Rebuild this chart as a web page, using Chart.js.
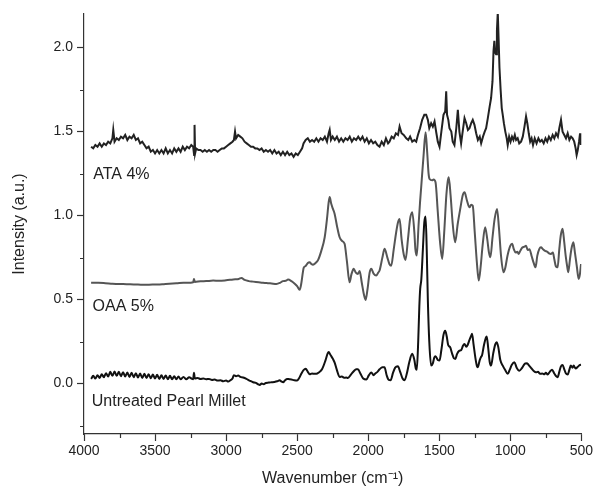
<!DOCTYPE html>
<html>
<head>
<meta charset="utf-8">
<script src="https://cdn.jsdelivr.net/npm/chart.js@4/dist/chart.umd.min.js"></script>
<style>
  html, body { margin: 0; padding: 0; background: #fff; }
  #wrap { width: 595px; height: 494px; }
</style>
</head>
<body>
<div id="wrap"><canvas id="graficoEspectros" width="595" height="494"></canvas></div>
<script>
// dados (numero de onda em cm-1, intensidade em u.a.)
const ataWn = [3950,3935,3920,3905,3890,3875,3860,3845,3830,3815,3800,3794,3785,3770,3755,3740,3725,3710,3695,3680,3665,3650,3635,3620,3605,3590,3575,3560,3545,3530,3515,3500,3485,3470,3455,3440,3425,3410,3395,3380,3365,3350,3335,3320,3305,3290,3275,3260,3245,3232,3225,3222,3218,3210,3195,3180,3165,3150,3135,3120,3105,3090,3075,3060,3045,3030,3015,3000,2985,2970,2955,2945,2937,2930,2915,2900,2885,2870,2855,2840,2825,2810,2795,2780,2765,2750,2735,2720,2705,2690,2675,2660,2645,2630,2615,2600,2585,2570,2555,2540,2525,2510,2495,2480,2465,2455,2440,2425,2410,2395,2380,2365,2350,2335,2320,2305,2290,2278,2271,2262,2250,2235,2220,2205,2190,2175,2160,2145,2130,2115,2100,2085,2070,2055,2040,2025,2010,1995,1980,1965,1950,1935,1920,1905,1890,1875,1860,1850,1835,1820,1805,1790,1779,1765,1750,1732,1718,1705,1690,1675,1662,1650,1635,1620,1605,1592,1580,1570,1557,1545,1533,1520,1510,1498,1485,1470,1458,1451,1445,1436,1428,1415,1405,1393,1380,1369,1358,1346,1335,1322,1310,1298,1287,1275,1264,1252,1240,1228,1215,1205,1192,1180,1170,1158,1145,1135,1125,1118,1112,1106,1100,1094,1088,1082,1076,1068,1060,1053,1045,1035,1025,1018,1008,998,988,978,968,959,948,937,924,912,900,889,880,870,860,850,840,828,815,802,790,778,765,752,740,728,715,702,690,678,665,655,643,632,620,608,596,584,572,561,550,540,533,525,516,509,503];
const ataVal = [1.41,1.40,1.42,1.41,1.43,1.41,1.43,1.42,1.44,1.43,1.46,1.51,1.44,1.46,1.45,1.47,1.46,1.48,1.45,1.47,1.46,1.48,1.45,1.46,1.43,1.44,1.42,1.40,1.41,1.38,1.39,1.37,1.39,1.37,1.39,1.37,1.40,1.37,1.39,1.37,1.40,1.38,1.40,1.38,1.41,1.39,1.41,1.40,1.42,1.41,1.36,1.54,1.37,1.40,1.39,1.39,1.38,1.39,1.38,1.39,1.38,1.39,1.39,1.38,1.39,1.40,1.40,1.41,1.42,1.43,1.44,1.45,1.50,1.46,1.48,1.47,1.46,1.44,1.43,1.42,1.41,1.41,1.40,1.40,1.39,1.40,1.38,1.39,1.38,1.39,1.37,1.39,1.37,1.38,1.36,1.38,1.36,1.38,1.36,1.37,1.35,1.37,1.36,1.38,1.40,1.43,1.45,1.46,1.44,1.45,1.44,1.46,1.44,1.46,1.45,1.47,1.44,1.49,1.51,1.45,1.47,1.45,1.47,1.44,1.46,1.44,1.46,1.45,1.47,1.44,1.46,1.45,1.47,1.45,1.47,1.44,1.46,1.43,1.45,1.43,1.44,1.42,1.41,1.44,1.42,1.46,1.43,1.44,1.47,1.46,1.49,1.48,1.53,1.49,1.48,1.46,1.45,1.47,1.44,1.45,1.44,1.48,1.52,1.57,1.60,1.60,1.57,1.52,1.55,1.53,1.56,1.49,1.44,1.41,1.50,1.60,1.62,1.74,1.60,1.57,1.52,1.50,1.44,1.42,1.52,1.63,1.50,1.43,1.50,1.58,1.55,1.51,1.52,1.55,1.57,1.54,1.49,1.45,1.47,1.43,1.47,1.50,1.52,1.58,1.65,1.70,1.80,1.98,2.04,1.97,1.96,2.10,2.21,2.05,1.88,1.75,1.64,1.60,1.55,1.50,1.46,1.42,1.47,1.44,1.47,1.45,1.48,1.45,1.46,1.43,1.44,1.47,1.53,1.59,1.55,1.49,1.44,1.46,1.42,1.46,1.43,1.46,1.44,1.45,1.43,1.46,1.44,1.47,1.45,1.48,1.46,1.49,1.47,1.52,1.57,1.50,1.48,1.46,1.49,1.45,1.47,1.46,1.44,1.40,1.36,1.39,1.44,1.49,1.42];

const oaaWn = [3950,3900,3850,3800,3750,3700,3650,3600,3560,3500,3450,3400,3350,3300,3250,3232,3226,3220,3180,3140,3091,3050,3000,2950,2910,2892,2870,2840,2810,2770,2740,2716,2680,2646,2620,2600,2580,2564,2540,2517,2500,2482,2470,2460,2454,2440,2425,2412,2400,2388,2370,2353,2330,2306,2290,2278,2271,2260,2248,2236,2220,2201,2185,2166,2150,2131,2118,2102,2087,2072,2060,2045,2030,2018,2005,1990,1978,1962,1943,1930,1920,1900,1885,1865,1850,1838,1820,1803,1790,1779,1765,1750,1737,1720,1705,1690,1675,1668,1658,1645,1635,1627,1610,1596,1585,1575,1568,1550,1540,1526,1510,1495,1479,1465,1450,1440,1433,1420,1405,1388,1370,1350,1335,1322,1305,1287,1275,1264,1250,1235,1222,1208,1195,1177,1162,1150,1140,1125,1110,1093,1080,1065,1048,1035,1020,1000,987,975,962,950,941,930,915,900,889,878,865,850,836,822,810,796,784,770,755,740,727,714,700,690,680,667,655,645,632,620,610,600,592,580,570,556,545,532,519,510,502];
const oaaVal = [0.600,0.600,0.598,0.595,0.593,0.592,0.590,0.589,0.588,0.590,0.592,0.595,0.597,0.600,0.601,0.603,0.622,0.605,0.609,0.610,0.613,0.612,0.615,0.620,0.623,0.629,0.617,0.610,0.607,0.603,0.600,0.599,0.596,0.593,0.600,0.610,0.612,0.619,0.610,0.595,0.580,0.558,0.600,0.660,0.689,0.700,0.718,0.722,0.712,0.708,0.718,0.735,0.790,0.871,0.980,1.080,1.110,1.070,1.040,1.010,0.940,0.871,0.850,0.832,0.730,0.603,0.650,0.683,0.660,0.653,0.670,0.600,0.530,0.498,0.560,0.660,0.683,0.655,0.643,0.660,0.673,0.750,0.802,0.750,0.710,0.702,0.800,0.901,0.960,0.980,0.860,0.770,0.736,0.860,0.980,1.020,0.900,0.800,0.762,0.950,1.080,1.169,1.360,1.496,1.380,1.250,1.218,1.210,1.215,1.198,1.020,0.850,0.742,0.900,1.120,1.205,1.228,1.120,0.950,0.841,0.950,1.050,1.120,1.139,1.090,1.049,1.065,1.059,0.900,0.720,0.613,0.700,0.820,0.930,0.860,0.780,0.752,0.870,0.980,1.040,0.930,0.760,0.663,0.690,0.760,0.820,0.832,0.800,0.780,0.785,0.772,0.790,0.810,0.815,0.821,0.795,0.800,0.760,0.720,0.692,0.760,0.800,0.811,0.800,0.790,0.785,0.775,0.772,0.780,0.740,0.700,0.692,0.800,0.880,0.921,0.840,0.760,0.700,0.663,0.740,0.800,0.841,0.780,0.700,0.623,0.650,0.712];

const milletWn = [3950,3935,3920,3905,3890,3875,3860,3845,3830,3815,3800,3785,3770,3755,3740,3725,3710,3695,3680,3665,3650,3635,3620,3605,3590,3575,3560,3545,3530,3515,3500,3485,3470,3455,3440,3425,3410,3395,3380,3365,3350,3335,3320,3300,3280,3260,3240,3232,3226,3220,3200,3180,3160,3140,3120,3100,3080,3060,3040,3020,3000,2985,2970,2955,2946,2930,2915,2900,2880,2857,2835,2810,2790,2775,2763,2750,2735,2720,2700,2680,2660,2640,2623,2610,2598,2585,2570,2555,2540,2520,2500,2488,2470,2455,2440,2425,2412,2395,2380,2365,2345,2325,2300,2285,2278,2265,2248,2236,2220,2201,2185,2170,2155,2143,2120,2100,2085,2072,2055,2035,2013,1995,1978,1962,1950,1935,1920,1900,1885,1870,1855,1842,1825,1810,1791,1775,1758,1744,1728,1710,1690,1675,1665,1658,1648,1640,1634,1626,1615,1605,1596,1588,1580,1570,1557,1545,1535,1526,1510,1498,1485,1470,1458,1447,1437,1423,1410,1396,1386,1375,1360,1345,1333,1322,1310,1300,1287,1275,1269,1258,1245,1235,1229,1215,1205,1199,1185,1172,1166,1155,1145,1135,1120,1105,1096,1085,1070,1053,1035,1018,1005,990,971,955,936,920,905,895,882,870,850,835,819,805,790,775,760,750,737,722,706,690,678,667,655,645,632,620,608,596,585,574,562,554,540,525,512,502];
const milletVal = [0.028,0.046,0.030,0.050,0.034,0.056,0.038,0.062,0.042,0.070,0.046,0.072,0.046,0.070,0.044,0.068,0.042,0.066,0.040,0.064,0.038,0.062,0.036,0.060,0.034,0.058,0.034,0.056,0.032,0.054,0.030,0.052,0.028,0.050,0.028,0.048,0.026,0.046,0.026,0.044,0.026,0.042,0.026,0.040,0.026,0.038,0.028,0.026,0.064,0.030,0.033,0.028,0.030,0.026,0.028,0.022,0.024,0.018,0.020,0.014,0.018,0.012,0.020,0.030,0.050,0.044,0.048,0.040,0.036,0.028,0.018,0.008,0.004,-0.004,-0.008,0.000,-0.004,0.004,0.006,0.008,0.010,0.014,0.020,0.012,0.008,0.020,0.028,0.026,0.024,0.020,0.018,0.030,0.060,0.080,0.088,0.070,0.055,0.060,0.058,0.058,0.068,0.085,0.140,0.180,0.188,0.170,0.147,0.125,0.080,0.040,0.042,0.035,0.036,0.034,0.055,0.075,0.085,0.085,0.060,0.030,0.024,0.050,0.066,0.050,0.060,0.070,0.085,0.097,0.097,0.050,0.022,0.020,0.065,0.095,0.103,0.070,0.030,0.020,0.060,0.130,0.177,0.140,0.090,0.082,0.250,0.460,0.564,0.620,0.800,0.960,0.994,0.800,0.494,0.250,0.107,0.120,0.155,0.163,0.140,0.137,0.200,0.290,0.315,0.280,0.230,0.216,0.180,0.150,0.147,0.175,0.195,0.200,0.225,0.236,0.220,0.230,0.260,0.285,0.296,0.230,0.150,0.105,0.097,0.140,0.160,0.167,0.230,0.272,0.280,0.210,0.130,0.107,0.180,0.235,0.246,0.220,0.140,0.107,0.080,0.058,0.080,0.110,0.127,0.095,0.077,0.090,0.110,0.120,0.121,0.110,0.090,0.075,0.067,0.070,0.058,0.060,0.055,0.065,0.054,0.070,0.082,0.060,0.045,0.038,0.070,0.100,0.111,0.085,0.060,0.054,0.080,0.107,0.095,0.107,0.090,0.100,0.110,0.113];

// rotulos das curvas (posicao em coordenadas de dados)
const rotulos = ['ATA 4%', 'OAA 5%', 'Untreated Pearl Millet'];
const rotuloWn = [3935, 3940, 3945];
const rotuloVal = [1.245, 0.46, -0.11];

const xTicks = [4000, 3500, 3000, 2500, 2000, 1500, 1000, 500];
const yTicks = [0, 0.5, 1, 1.5, 2];
const xMinor = [3750, 3250, 2750, 2250, 1750, 1250, 750];
const yMinor = [-0.25, 0.25, 0.75, 1.25, 1.75];

const fonte = '"Liberation Sans", Arial, Helvetica, sans-serif';
const corEixo = '#333';

function pares(xs, ys) {
    return xs.map((x, i) => ({ x: x, y: ys[i] }));
}

// marcas menores e rotulos das curvas
const extras = {
    id: 'extras',
    afterDraw(chart) {
        const ctx = chart.ctx;
        const sx = chart.scales.x;
        const sy = chart.scales.y;
        const area = chart.chartArea;
        ctx.save();
        ctx.strokeStyle = corEixo;
        ctx.lineWidth = 1.2;
        ctx.beginPath();
        xMinor.forEach(v => {
            const px = Math.round(sx.getPixelForValue(v)) + 0.5;
            ctx.moveTo(px, area.bottom);
            ctx.lineTo(px, area.bottom + 4);
        });
        yMinor.forEach(v => {
            const py = Math.round(sy.getPixelForValue(v)) + 0.5;
            ctx.moveTo(area.left, py);
            ctx.lineTo(area.left - 4, py);
        });
        ctx.stroke();

        ctx.fillStyle = '#222';
        ctx.font = '16px ' + fonte;
        ctx.textBaseline = 'middle';
        ctx.textAlign = 'left';
        rotulos.forEach((t, i) => {
            ctx.fillText(t, sx.getPixelForValue(rotuloWn[i]), sy.getPixelForValue(rotuloVal[i]));
        });
        ctx.restore();
    }
};

function desenharGrafico() {
    const ctx = document.getElementById('graficoEspectros').getContext('2d');
    new Chart(ctx, {
        type: 'line',
        data: {
            datasets: [
                {
                    label: 'ATA 4%',
                    data: pares(ataWn, ataVal),
                    borderColor: '#222',
                    borderWidth: 2,
                    tension: 0
                },
                {
                    label: 'OAA 5%',
                    data: pares(oaaWn, oaaVal),
                    borderColor: '#555',
                    borderWidth: 2,
                    cubicInterpolationMode: 'monotone'
                },
                {
                    label: 'Untreated Pearl Millet',
                    data: pares(milletWn, milletVal),
                    borderColor: '#111',
                    borderWidth: 2,
                    cubicInterpolationMode: 'monotone'
                }
            ]
        },
        options: {
            responsive: false,
            animation: false,
            events: [],
            layout: { padding: { left: 0, right: 13, top: 14, bottom: 0 } },
            elements: { point: { radius: 0 } },
            plugins: {
                legend: { display: false },
                tooltip: { enabled: false }
            },
            scales: {
                x: {
                    type: 'linear',
                    reverse: true,
                    min: 500,
                    max: 4000,
                    afterFit: s => { s.height = 60; },
                    afterBuildTicks: s => { s.ticks = xTicks.map(v => ({ value: v })); },
                    border: { display: true, color: corEixo, width: 1.2 },
                    grid: { drawOnChartArea: false, tickLength: 7, tickColor: corEixo, tickWidth: 1.2 },
                    ticks: {
                        color: '#222',
                        font: { family: fonte, size: 14 },
                        padding: 2,
                        maxRotation: 0,
                        autoSkip: false,
                        callback: v => String(v)
                    },
                    title: {
                        display: true,
                        text: 'Wavenumber (cm⁻¹)',
                        color: '#222',
                        font: { family: fonte, size: 16 },
                        padding: { top: 0, bottom: 6 }
                    }
                },
                y: {
                    min: -0.3,
                    max: 2.2,
                    afterFit: s => { s.width = 84; },
                    afterBuildTicks: s => { s.ticks = yTicks.map(v => ({ value: v })); },
                    border: { display: true, color: corEixo, width: 1.2 },
                    grid: { drawOnChartArea: false, tickLength: 7, tickColor: corEixo, tickWidth: 1.2 },
                    ticks: {
                        color: '#222',
                        font: { family: fonte, size: 14 },
                        padding: 4,
                        callback: v => Number(v).toFixed(1)
                    },
                    title: {
                        display: true,
                        text: 'Intensity (a.u.)',
                        color: '#222',
                        font: { family: fonte, size: 16 },
                        padding: { top: 10, bottom: 0 }
                    }
                }
            }
        },
        plugins: [extras]
    });
}

document.addEventListener('DOMContentLoaded', () => {
    desenharGrafico();
});
</script>
</body>
</html>
